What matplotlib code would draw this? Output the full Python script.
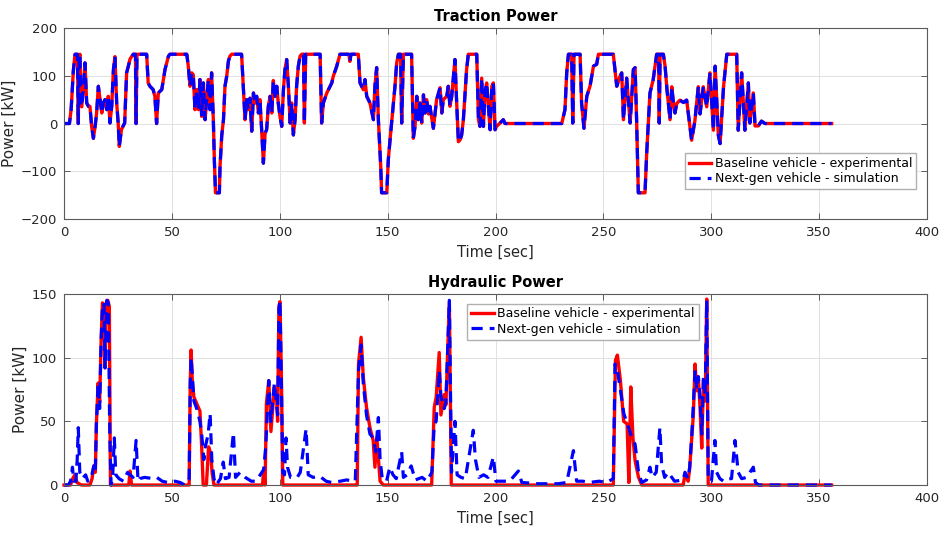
import matplotlib
matplotlib.use('Agg')
import matplotlib.pyplot as plt

# Traction power [kW] over the duty cycle
traction_time = [
    0, 2.5, 3.3, 4.3, 5.1, 6.2, 6.6, 7.0, 7.4, 7.8, 8.2, 9.0,
    9.7, 10.5, 11.3, 12.0, 12.8, 13.6, 14.4, 15.1, 15.9, 16.7, 17.5, 18.2,
    19.0, 19.8, 20.5, 21.3, 22.1, 22.9, 23.6, 24.4, 25.1, 25.6, 26.6, 27.3,
    28.1, 29.0, 29.8, 30.6, 31.3, 32.1, 33.1, 33.4, 33.8, 38.3, 39.0, 39.8,
    41.3, 42.1, 42.9, 43.7, 45.3, 46.8, 48.4, 49.1, 56.9, 57.6, 58.4, 59.2,
    59.9, 60.7, 61.5, 62.3, 63.0, 63.8, 64.6, 65.4, 66.1, 66.9, 67.7, 68.4,
    69.2, 69.7, 70.2, 72.0, 72.3, 73.1, 73.9, 74.6, 75.4, 76.2, 76.9, 77.7,
    82.3, 83.1, 83.9, 84.7, 85.4, 86.2, 87.0, 87.8, 88.5, 89.3, 90.1, 90.8,
    91.6, 92.4, 93.2, 93.9, 94.7, 95.5, 96.3, 97.0, 97.8, 98.6, 99.3, 100.1,
    100.9, 101.7, 102.4, 103.2, 104.0, 104.8, 105.5, 106.3, 107.1, 107.8, 108.6, 109.4,
    110.2, 111.0, 111.4, 112.0, 118.7, 119.4, 120.2, 121.8, 123.3, 124.1, 124.8, 126.4,
    127.9, 132.0, 132.5, 133.0, 136.4, 137.2, 138.7, 139.5, 140.3, 141.8, 143.4, 144.1,
    144.9, 145.7, 146.8, 147.2, 149.6, 150.3, 151.4, 152.7, 153.4, 154.2, 155.0, 156.0,
    156.5, 157.3, 161.1, 161.9, 162.7, 163.5, 164.2, 165.0, 165.8, 166.6, 167.3, 168.1,
    168.9, 169.6, 171.2, 172.7, 174.3, 175.1, 175.8, 177.4, 178.1, 178.9, 179.7, 181.2,
    182.0, 182.8, 183.6, 184.3, 185.1, 186.6, 187.4, 191.3, 192.1, 192.8, 193.6, 194.4,
    195.1, 195.9, 196.7, 197.5, 198.3, 199.0, 199.8, 200.5, 202.1, 203.6, 204.4, 230.7,
    232.2, 233.0, 233.8, 235.3, 235.8, 236.4, 239.2, 239.9, 241.0, 242.3, 243.8, 245.4,
    246.9, 247.7, 254.6, 256.2, 257.7, 258.5, 259.3, 260.8, 262.4, 263.9, 264.7, 265.4,
    266.2, 269.3, 270.1, 271.6, 273.1, 274.7, 275.6, 275.9, 276.3, 277.8, 278.6, 279.5,
    280.9, 281.7, 282.5, 283.2, 284.0, 285.5, 287.1, 288.6, 290.1, 290.9, 292.4, 294.0,
    294.8, 296.3, 297.9, 299.4, 301.0, 301.8, 303.3, 304.1, 305.7, 307.2, 311.8, 312.5,
    314.1, 315.6, 317.2, 317.9, 319.5, 320.3, 321.8, 323.3, 324.9, 355.8,
]
traction_baseline = [
    0, 0, 30, 110, 145, 145, 0, 140, 145, 40, 35, 78,
    127, 43, 36, 36, -6, -31, -6, 22, 78, 50, 22, 43,
    50, 29, 57, 1, 36, 113, 140, 43, 1, -48, -13, -6,
    1, 106, 120, 135, 140, 145, 145, 0, 145, 145, 85, 78,
    71, 57, 0, 64, 71, 113, 141, 145, 145, 120, 78, 106,
    102, 29, 71, 29, 92, 15, 85, 8, 50, 92, 29, 106,
    8, -80, -145, -145, -90, -25, 8, 78, 99, 131, 141, 145,
    145, 78, 8, 50, 29, 53, -16, 64, 43, 57, 22, 50,
    -13, -83, -20, -13, 36, 57, 22, 90, 57, 78, 43, 15,
    -6, 71, 113, 134, 78, 1, 43, -24, 8, 78, 120, 141,
    145, 145, 1, 145, 145, 1, 43, 64, 78, 85, 99, 120,
    145, 145, 130, 145, 145, 85, 71, 92, 57, 43, 8, 78,
    117, 8, -90, -145, -145, -76, -20, 43, 78, 127, 145, 145,
    1, 145, 145, -31, -6, 57, 8, 43, 1, 60, 22, 50,
    20, 36, -10, 50, 75, 22, 50, 57, 78, 36, 57, 134,
    43, -38, -34, -24, 8, 113, 145, 145, 8, -6, 95, -6,
    64, 85, 36, -13, 78, 85, -13, -6, 1, 8, 0, 0,
    29, 106, 145, 145, 1, 145, 145, 43, -10, 57, 78, 120,
    124, 145, 145, 78, 99, 106, 8, 95, 1, 113, 117, 8,
    -145, -145, -60, 64, 92, 145, 145, 1, 145, 145, 120, 70,
    8, 77, 42, 22, 42, 49, 44, 49, -5, -35, 5, 77,
    20, 77, 35, 106, -14, 120, -25, -42, 77, 145, 145, -14,
    106, -14, 85, 1, 64, -5, -5, 5, 0, 0,
]
# the simulation sits on top of the test trace in this panel
traction_nextgen = list(traction_baseline)

# Hydraulic power [kW], baseline vehicle (experimental)
hyd_base_time = [
    0, 3, 4, 5, 6, 8, 12, 13, 13.8, 14.5, 15, 15.8,
    16.5, 17.2, 17.8, 18.5, 19, 19.5, 20.3, 21, 21.5, 30, 30.6, 31.3,
    58, 58.5, 58.9, 59.5, 60.2, 61.5, 63, 63.8, 64.5, 66, 67, 68,
    68.6, 69.5, 92, 92.5, 93.2, 93.8, 94.9, 95.9, 97.5, 98.4, 99, 99.6,
    100.1, 100.8, 101.4, 135.9, 136.5, 137.7, 138.7, 140.2, 141.8, 143.3, 144.1, 145,
    146.5, 148, 170.4, 171.6, 172.5, 173.9, 174.7, 176.2, 177, 178.6, 179.5, 254.6,
    255.6, 256.5, 257.9, 259.4, 261, 261.8, 262.7, 263.7, 264.7, 266.3, 267.8, 287,
    287.8, 289.3, 290, 291.7, 292.5, 293.3, 294, 294.8, 295.6, 296.4, 297.2, 297.9,
    298.6, 355.8,
]
hyd_base_kw = [
    0, 0, 5, 8, 2, 0, 0, 5, 15, 10, 48, 80,
    65, 114, 143, 140, 92, 143, 145, 140, 0, 0, 11, 0,
    0, 80, 106, 80, 69, 64, 58, 30, 0, 0, 30, 25,
    10, 0, 0, 11, 0, 64, 82, 42, 77, 72, 50, 140,
    144, 80, 0, 0, 95, 116, 85, 61, 45, 35, 14, 37,
    3, 0, 0, 61, 69, 104, 55, 71, 63, 144, 0, 0,
    98, 102, 82, 50, 48, 2, 77, 37, 19, 6, 0, 0,
    8, 3, 13, 55, 95, 74, 85, 61, 29, 82, 66, 146,
    0, 0,
]

# Hydraulic power [kW], next-gen vehicle (simulation)
hyd_sim_time = [
    0, 2, 3, 3.5, 3.9, 4.5, 5.5, 6.1, 6.6, 7.3, 8.5, 10,
    11, 12.5, 13.8, 14.5, 15, 15.8, 16.5, 17.2, 17.8, 18.5, 19, 19.8,
    20.5, 21.2, 21.8, 22.5, 23.3, 24, 25.5, 27.5, 28.3, 29.5, 30.6, 32,
    33.4, 34.3, 35, 37.3, 41.5, 43, 45.5, 48, 51.5, 53.8, 56, 58,
    58.5, 58.9, 59.5, 60.2, 61.5, 63, 63.8, 64.8, 65.5, 66.8, 67.7, 68.5,
    69.5, 70.5, 72.5, 73.8, 74.8, 76.5, 78.5, 79.5, 81.6, 84, 86.8, 89,
    92.5, 93.5, 94.9, 95.9, 97.5, 98.4, 99, 99.6, 100.1, 100.8, 101.4, 102.2,
    102.9, 103.6, 105, 108.1, 109.5, 112.2, 113.2, 115.5, 118.4, 121.5, 124, 128,
    131, 135, 136.5, 137.7, 138.7, 140.2, 141.8, 143.3, 144.5, 145.7, 146.5, 147.5,
    149.5, 151, 152.5, 154, 156.5, 157.3, 159, 160.9, 162.8, 166, 168.2, 170.5,
    171.6, 172.5, 173.9, 174.7, 176.2, 177, 178.6, 179.6, 181.2, 182.2, 184, 186,
    189.7, 190.7, 192.3, 194.5, 196.5, 199, 200.2, 202.5, 206.5, 210.6, 212.2, 220,
    229, 233, 236.1, 237.6, 240.5, 243.5, 248, 251.5, 254.6, 255.4, 256.5, 258.3,
    259.5, 261.7, 263.2, 264.7, 266.3, 267.8, 270, 271.6, 272.6, 274.5, 276.2, 277,
    278.4, 280, 283, 287, 287.8, 289.3, 290, 291, 292.5, 293.3, 294, 294.8,
    295.6, 296.4, 297.2, 297.9, 298.6, 300.1, 301.7, 302.5, 304, 305.7, 307.2, 309.4,
    311, 312.5, 314.1, 316.4, 319.5, 320.5, 322, 355.8,
]
hyd_sim_kw = [
    0, 0, 3, 8, 14, 3, 3, 20, 45, 10, 5, 8,
    3, 5, 15, 10, 48, 80, 60, 114, 140, 143, 92, 145,
    143, 40, 0, 5, 37, 8, 5, 3, 6, 10, 8, 6,
    35, 3, 5, 6, 5, 6, 3, 2, 3, 2, 0, 5,
    80, 100, 85, 66, 60, 50, 40, 20, 30, 40, 56, 20,
    5, 0, 5, 18, 5, 6, 41, 6, 10, 6, 3, 3,
    12, 30, 82, 50, 80, 65, 55, 138, 145, 70, 10, 8,
    37, 14, 6, 6, 10, 44, 8, 6, 7, 3, 2, 3,
    4, 3, 90, 110, 80, 55, 40, 37, 26, 53, 20, 5,
    3, 14, 8, 5, 26, 6, 8, 15, 4, 6, 3, 10,
    48, 50, 90, 70, 60, 65, 145, 10, 50, 8, 6, 5,
    43, 20, 6, 8, 6, 22, 3, 3, 3, 11, 2, 1,
    1, 2, 27, 3, 3, 2, 3, 2, 5, 95, 90, 70,
    56, 45, 37, 32, 10, 2, 4, 14, 6, 10, 45, 16,
    6, 10, 3, 4, 10, 5, 14, 40, 90, 75, 85, 70,
    40, 85, 70, 145, 5, 3, 35, 10, 5, 3, 5, 5,
    35, 10, 5, 6, 14, 2, 0, 0,
]

labels = ['Baseline vehicle - experimental', 'Next-gen vehicle - simulation']
text_col = '#262626'
spine_col = '#5a5a5a'
grid_col = '#e1e1e1'

fig = plt.figure(figsize=(9.39, 5.33), dpi=100)
ax1 = fig.add_axes([0.0682, 0.589, 0.919, 0.3585])
ax2 = fig.add_axes([0.0682, 0.090, 0.919, 0.3585])


def style_axes(ax, title):
    ax.set_xlim(0, 400)
    ax.set_xticks(range(0, 401, 50))
    ax.grid(True, color=grid_col, linewidth=0.7)
    ax.set_axisbelow(True)
    for s in ax.spines.values():
        s.set_color(spine_col)
        s.set_linewidth(0.8)
    ax.tick_params(direction='in', top=True, right=True, length=4,
                   width=0.7, color=spine_col, labelsize=9.5,
                   labelcolor=text_col, pad=5)
    ax.set_title(title, fontsize=10.5, fontweight='bold', pad=5)
    ax.set_xlabel('Time [sec]', fontsize=10.5, color=text_col, labelpad=4)
    ax.set_ylabel('Power [kW]', fontsize=11, color=text_col, labelpad=3)


# Top panel - traction power
ax1.plot(traction_time, traction_baseline, color='red', linewidth=2.4,
         label=labels[0])
ax1.plot(traction_time, traction_nextgen, color='blue', linewidth=2.3,
         linestyle=(0, (3.5, 2.2)), label=labels[1])
ax1.set_ylim(-200, 200)
ax1.set_yticks([-200, -100, 0, 100, 200])
style_axes(ax1, 'Traction Power')
ax1.legend(loc='upper left', bbox_to_anchor=(0.7196, 0.345), fontsize=9,
           frameon=True, fancybox=False, edgecolor='#b0b0b0', framealpha=1,
           borderpad=0.3, labelspacing=0.2, handlelength=1.8,
           handletextpad=0.3, borderaxespad=0)

# Bottom panel - hydraulic power
ax2.plot(hyd_base_time, hyd_base_kw, color='red', linewidth=2.4,
         label=labels[0], clip_on=False)
ax2.plot(hyd_sim_time, hyd_sim_kw, color='blue', linewidth=2.3,
         linestyle=(0, (3.5, 2.2)), label=labels[1], clip_on=False)
ax2.set_ylim(0, 150)
ax2.set_yticks([0, 50, 100, 150])
style_axes(ax2, 'Hydraulic Power')
ax2.legend(loc='upper left', bbox_to_anchor=(0.4673, 0.95), fontsize=9,
           frameon=True, fancybox=False, edgecolor='#b0b0b0', framealpha=1,
           borderpad=0.3, labelspacing=0.2, handlelength=1.8,
           handletextpad=0.3, borderaxespad=0)

fig.savefig('out.png', dpi=100)
